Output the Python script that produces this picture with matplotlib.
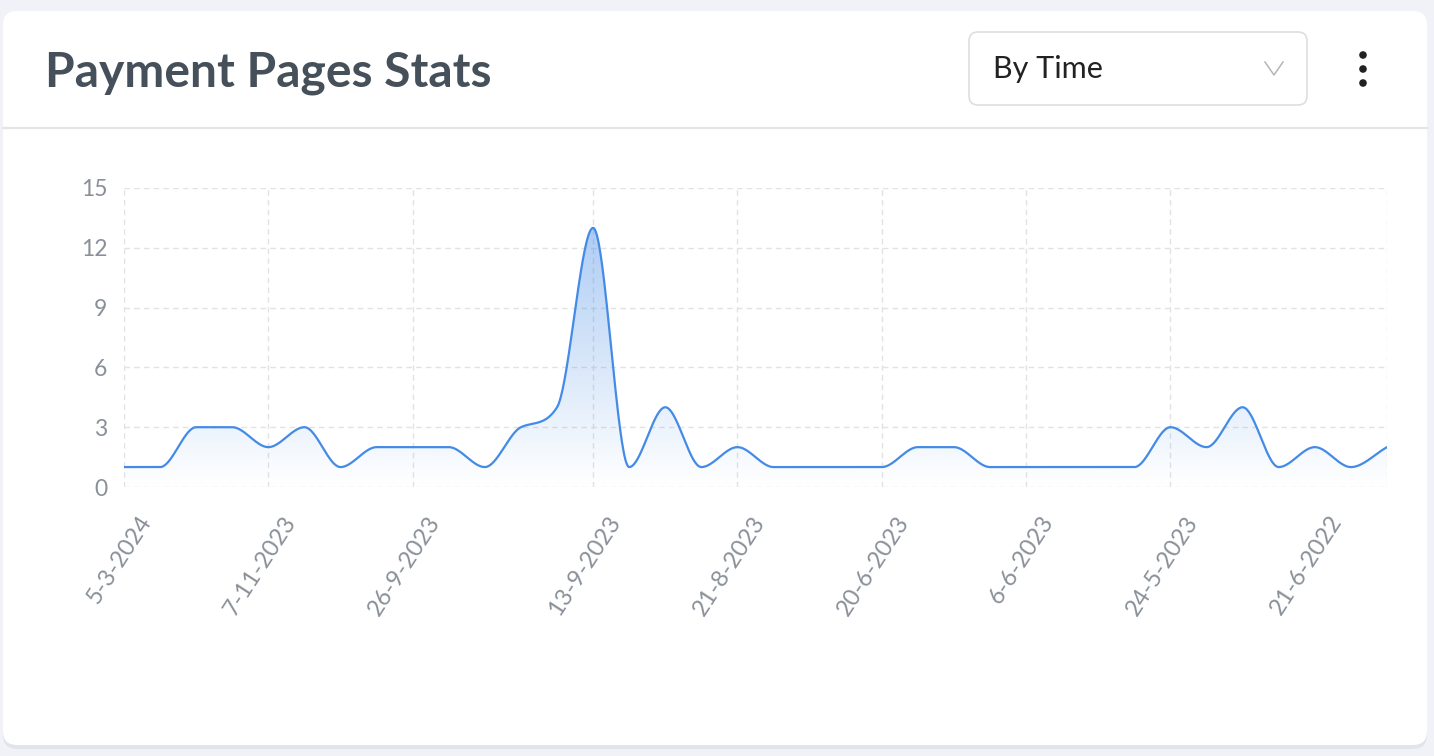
import numpy as np
import matplotlib
matplotlib.use("Agg")
import matplotlib.pyplot as plt
from matplotlib.patches import FancyBboxPatch, Polygon, Circle
from matplotlib.transforms import ScaledTranslation

plt.rcParams['font.family'] = ['Lato', 'DejaVu Sans']

# data
values = [1, 1, 3, 3, 2, 3, 1, 2, 2, 2, 1, 3, 4, 13, 1, 4, 1, 2,
          1, 1, 1, 1, 2, 2, 1, 1, 1, 1, 1, 3, 2, 4, 1, 2, 1, 2]
label_idx = [0, 4, 8, 13, 17, 21, 25, 29, 33]
label_text = ["5-3-2024", "7-11-2023", "26-9-2023", "13-9-2023", "21-8-2023",
              "20-6-2023", "6-6-2023", "24-5-2023", "21-6-2022"]
y_ticks = [0, 3, 6, 9, 12, 15]

W, H = 1434, 756
LINE = "#438be6"
GRID = "#e2e2e2"
TICK = "#8a9098"

fig = plt.figure(figsize=(W / 100, H / 100), dpi=100)
fig.patch.set_facecolor("#f1f2f7")

# background layer in pixel coords
bg = fig.add_axes([0, 0, 1, 1], zorder=0)
bg.set_xlim(0, W)
bg.set_ylim(H, 0)
bg.axis("off")
bg.add_patch(FancyBboxPatch((3, 14), 1424, 735, boxstyle="round,pad=0,rounding_size=14",
                            fc="#e3e4eb", ec="none"))
bg.add_patch(FancyBboxPatch((3, 11), 1424, 734, boxstyle="round,pad=0,rounding_size=14",
                            fc="white", ec="none"))
bg.plot([3, 1427], [128, 128], color="#e4e4e4", lw=1.6)
bg.text(45, 73, "Payment Pages Stats", fontsize=34.6, fontweight="bold",
        color="#46505a", va="center", ha="left")
bg.add_patch(FancyBboxPatch((969, 32), 338, 73, boxstyle="round,pad=0,rounding_size=9",
                            fc="white", ec="#dedede", lw=1.2))
bg.text(993, 69, "By Time", fontsize=22, color="#222222", va="center", ha="left")
bg.plot([1265, 1274, 1283], [62, 75, 62], color="#b5b5b5", lw=1.1)
for yy in [55, 69, 83]:
    bg.add_patch(Circle((1363, yy), 3.8, fc="#222222", ec="none"))

# chart area
ax = fig.add_axes([124 / W, 1 - 487 / H, 1263 / W, 299 / H], zorder=1)
ax.set_facecolor("none")
n = len(values)
ax.set_xlim(0, n - 1)
ax.set_ylim(0, 15)

# monotone cubic interpolation (like chart.js cubicInterpolationMode 'monotone')
xs = np.arange(n, dtype=float)
ys = np.array(values, dtype=float)
dk = np.diff(ys) / np.diff(xs)
mk = np.zeros(n)
mk[0] = dk[0]
mk[-1] = dk[-1]
for i in range(1, n - 1):
    if dk[i - 1] == 0 or dk[i] == 0 or np.sign(dk[i - 1]) != np.sign(dk[i]):
        mk[i] = 0
    else:
        mk[i] = (dk[i - 1] + dk[i]) / 2
for i in range(n - 1):
    if dk[i] == 0:
        mk[i] = mk[i + 1] = 0
        continue
    a = mk[i] / dk[i]
    b = mk[i + 1] / dk[i]
    sq = a * a + b * b
    if sq > 9:
        tau = 3 / np.sqrt(sq)
        mk[i] = a * tau * dk[i]
        mk[i + 1] = b * tau * dk[i]

cx, cy = [], []
u = np.linspace(0, 1, 40)
for i in range(n - 1):
    dx = (xs[i + 1] - xs[i]) / 3
    P0 = np.array([xs[i], ys[i]])
    P1 = np.array([xs[i] + dx, min(max(ys[i] + dx * mk[i], 0), 15)])
    P2 = np.array([xs[i + 1] - dx, min(max(ys[i + 1] - dx * mk[i + 1], 0), 15)])
    P3 = np.array([xs[i + 1], ys[i + 1]])
    bz = ((1 - u) ** 3)[:, None] * P0 + (3 * (1 - u) ** 2 * u)[:, None] * P1 \
        + (3 * (1 - u) * u ** 2)[:, None] * P2 + (u ** 3)[:, None] * P3
    cx.extend(bz[:, 0])
    cy.extend(bz[:, 1])
cx = np.array(cx)
cy = np.array(cy)

# gradient fill under the curve
poly = Polygon(np.column_stack([np.r_[cx, cx[-1], cx[0]], np.r_[cy, 0, 0]]),
               closed=True, fc="none", ec="none")
ax.add_patch(poly)
grad = np.zeros((200, 2, 4))
grad[..., :3] = matplotlib.colors.to_rgb(LINE)
grad[..., 3] = np.linspace(0, 0.5, 200)[:, None]
im = ax.imshow(grad, extent=[0, n - 1, 0, 15], origin="lower", aspect="auto",
               interpolation="bilinear", zorder=2)
im.set_clip_path(poly)

ax.plot(cx, cy, color=LINE, lw=1.6, zorder=3, solid_capstyle="round")

# grid
for yv in y_ticks:
    ax.axhline(yv, color=GRID, lw=1.0, dashes=(4, 3), zorder=1)
grid_idx = label_idx[:-1] + [n - 1]
for xv in grid_idx:
    ax.axvline(xv, color=GRID, lw=1.0, dashes=(4, 3), zorder=1)

for s in ax.spines.values():
    s.set_visible(False)

ax.set_yticks(y_ticks)
ax.set_yticklabels([str(v) for v in y_ticks])
ax.tick_params(axis="y", length=0, pad=12, labelsize=16.5, labelcolor=TICK)

ax.set_xticks(label_idx)
ax.set_xticklabels(label_text, rotation=57, ha="right", va="top",
                   rotation_mode="anchor", fontsize=17, color=TICK)
ax.tick_params(axis="x", length=0, pad=18)
off = ScaledTranslation(14 / 100, 0, fig.dpi_scale_trans)
for lab in ax.get_xticklabels():
    lab.set_transform(lab.get_transform() + off)

fig.savefig("out.png", dpi=100, facecolor=fig.get_facecolor())
